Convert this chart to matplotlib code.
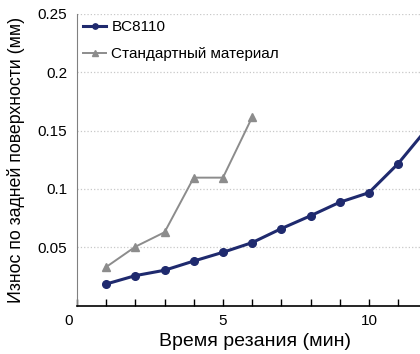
import numpy as np
import matplotlib
matplotlib.use('Agg')
import matplotlib.pyplot as plt
import matplotlib.transforms as mtransforms

plt.rcParams['font.family'] = ['Liberation Sans', 'DejaVu Sans']

# data
minutes = [1, 2, 3, 4, 5, 6, 7, 8, 9, 10, 11, 12]
bc8110 = [0.0185, 0.0257, 0.0303, 0.0382, 0.0457, 0.054, 0.066, 0.077, 0.0886, 0.0968, 0.1217, 0.152]
std_minutes = [1, 2, 3, 4, 5, 6]
standard = [0.0331, 0.0505, 0.0629, 0.1097, 0.1097, 0.1615]
yticks = [0.05, 0.1, 0.15, 0.2, 0.25]
ytick_labels = ['0.05', '0.1', '0.15', '0.2', '0.25']

fig = plt.figure(figsize=(4.2, 3.54), dpi=100)
ax = fig.add_axes([0.1833, 0.1367, 0.8167, 0.8238])

ax.plot(minutes, bc8110, color='#1f2a6e', lw=2.2, marker='o', ms=5.5, label='BC8110')
ax.plot(std_minutes, standard, color='#8c8c8c', lw=1.4, marker='^', ms=5.8, label='Стандартный материал')

ax.set_xlim(0, 11.75)
ax.set_ylim(0, 0.25)
ax.set_xticks(range(0, 12))
ax.set_xticklabels([str(i) if i % 5 == 0 else '' for i in range(0, 12)])
ax.set_yticks(yticks)
ax.set_yticklabels(ytick_labels)
ax.tick_params(axis='x', direction='in', length=5, width=1, labelsize=11, pad=6)
ax.tick_params(axis='y', length=0, labelsize=11, pad=7)
ax.grid(axis='y', color='#c8c8c8', ls=':', lw=0.9)
ax.set_axisbelow(True)

# the "0" sits a little left of the origin in the original
lbl0 = ax.get_xticklabels()[0]
lbl0.set_transform(lbl0.get_transform() + mtransforms.ScaledTranslation(-0.08, 0, fig.dpi_scale_trans))

for s in ['top', 'right']:
    ax.spines[s].set_visible(False)
ax.spines['left'].set_color('#808080')
ax.spines['bottom'].set_color('#000000')
ax.spines['bottom'].set_linewidth(1.2)

ax.set_xlabel('Время резания (мин)', fontsize=14)
ax.xaxis.set_label_coords(0.52, -0.095)
ax.set_ylabel('Износ по задней поверхности (мм)', fontsize=12.8, labelpad=9)

ax.legend(loc='upper left', frameon=False, fontsize=11, handlelength=1.5,
          borderaxespad=0.1, borderpad=0.3, handletextpad=0.35, labelspacing=0.85,
          markerscale=0.7)

fig.savefig('out.png', dpi=100)
